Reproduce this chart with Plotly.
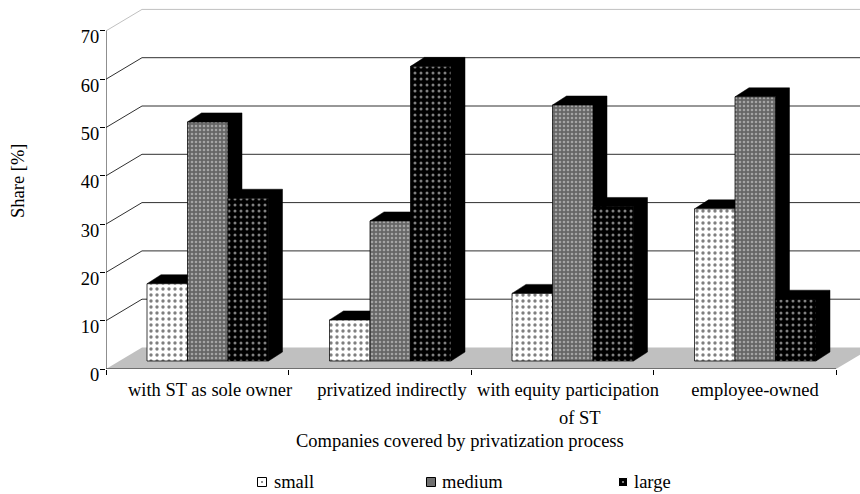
"""Share of small, medium and large companies by privatization path (pseudo-3D bars)."""

import plotly.graph_objects as go

CATEGORIES = [
    "with ST as sole owner",
    "privatized indirectly",
    "with equity participation",
    "employee-owned",
]
SMALL = [16, 8.5, 14, 31.5]
MEDIUM = [49.5, 29, 53, 54.7]
LARGE = [33.7, 61, 32, 12.8]
Y_TICKS = [0, 10, 20, 30, 40, 50, 60, 70]
LEGEND_NAMES = ["small", "medium", "large"]

FONT = "Liberation Serif"
WIDTH, HEIGHT = 860, 494

# pixel frame of the axes
X0_PX, Y0_PX = 106, 369
TOP_PX = 4
CAT_PX = 182.5
TEN_PX = 48.3
X_MAX = (WIDTH - X0_PX) / CAT_PX
Y_MAX = (Y0_PX - TOP_PX) / (TEN_PX / 10)

# category labels are not centred on their slots in the original
LABEL_PX = [210, 392, 568, 755]
LEGEND_KEY_PX = [262, 431, 623]
LEGEND_TEXT_PX = [272, 440, 632]
LEGEND_Y_PX = 482

# oblique offsets, in data units
WALL_DX, WALL_DY = 36 / CAT_PX, 21.5 / (TEN_PX / 10)
BASE_DX, BASE_DY = 10.5 / CAT_PX, 8 / (TEN_PX / 10)
BAR_DX, BAR_DY = 14 / CAT_PX, 9 / (TEN_PX / 10)
BAR_W = 40.5 / CAT_PX

SERIES = [
    ("small", SMALL, {"shape": ".", "fgcolor": "black", "bgcolor": "white", "size": 6, "solidity": 0.25}),
    ("medium", MEDIUM, {"shape": ".", "fgcolor": "#e4e4e4", "bgcolor": "#666666", "size": 4, "solidity": 0.33}),
    ("large", LARGE, {"shape": ".", "fgcolor": "white", "bgcolor": "black", "size": 6, "solidity": 0.2}),
]


def px_x(px):
    return (px - X0_PX) / CAT_PX


def label(text, x_px, y_px, **kw):
    # margins are zero, so paper coordinates are the whole canvas
    return {
        "text": text,
        "x": x_px / WIDTH,
        "y": 1 - y_px / HEIGHT,
        "xref": "paper",
        "yref": "paper",
        "xanchor": "center",
        "yanchor": "middle",
        "showarrow": False,
        **kw,
    }


fig = go.Figure()

# floor
fig.add_trace(go.Scatter(
    x=[0, WALL_DX, len(CATEGORIES) + WALL_DX, len(CATEGORIES), 0],
    y=[0, WALL_DY, WALL_DY, 0, 0],
    mode="lines", fill="toself", fillcolor="#c0c0c0", line={"width": 0},
    hoverinfo="skip", showlegend=False,
))

# grid: slanted part on the side wall, then straight along the back wall
for val in Y_TICKS[1:]:
    top = val == Y_TICKS[-1]
    fig.add_trace(go.Scatter(
        x=[0, WALL_DX, len(CATEGORIES) + WALL_DX],
        y=[val, val + WALL_DY, val + WALL_DY],
        mode="lines",
        line={"width": 1, "color": "#c0c0c0" if top else "#303030"},
        hoverinfo="skip", showlegend=False, cliponaxis=False,
    ))

# bars, drawn series by series so each front covers the neighbour's side face
for j, (name, values, pattern) in enumerate(SERIES):
    for i, val in enumerate(values):
        xl = i + 0.5 + BASE_DX + (j - 1.5) * BAR_W
        xr = xl + BAR_W
        yb = BASE_DY
        yt = BASE_DY + val
        fig.add_trace(go.Scatter(
            x=[xl, xl + BAR_DX, xr + BAR_DX, xr + BAR_DX, xr, xr, xl],
            y=[yt, yt + BAR_DY, yt + BAR_DY, yb + BAR_DY, yb, yt, yt],
            mode="lines", fill="toself", fillcolor="black",
            line={"width": 0.5, "color": "black"},
            hoverinfo="skip", showlegend=False,
        ))
        fig.add_trace(go.Scatter(
            x=[xl, xr, xr, xl, xl],
            y=[yb, yb, yt, yt, yb],
            mode="lines", fill="toself", fillpattern=pattern,
            fillcolor=pattern["bgcolor"],
            line={"width": 0.75, "color": "black"},
            name=name, hovertemplate=f"{name}: {val}%<extra></extra>", showlegend=False,
        ))

# axis lines sit on the plot edge, so they are left unclipped
fig.add_trace(go.Scatter(
    x=[0, 0, None, 0, len(CATEGORIES)],
    y=[0, Y_TICKS[-1], None, 0, 0],
    mode="lines", line={"width": 1, "color": "#202020"},
    hoverinfo="skip", showlegend=False, cliponaxis=False,
))

# legend keys live on their own hidden pixel axes in a strip below the chart
fig.add_trace(go.Scatter(
    x=LEGEND_KEY_PX,
    y=[LEGEND_Y_PX] * 3,
    xaxis="x2",
    yaxis="y2",
    mode="markers",
    marker={
        "symbol": ["square-dot", "square", "square-dot"],
        "size": 9,
        "color": ["white", "#707070", "black"],
        "line": {"width": 1, "color": ["black", "black", "white"]},
    },
    hoverinfo="skip", showlegend=False,
))

annotations = [
    label("of ST", 580, 418),
    label("Companies covered by privatization process", 460, 441),
    label("Share [%]", 18, 181, textangle=-90),
]
for name, x_px in zip(LEGEND_NAMES, LEGEND_TEXT_PX):
    annotations.append(label(name, x_px, LEGEND_Y_PX, xanchor="left"))

fig.update_layout(
    width=WIDTH,
    height=HEIGHT,
    margin={"l": 0, "r": 0, "t": 0, "b": 0, "autoexpand": False},
    paper_bgcolor="white",
    plot_bgcolor="white",
    showlegend=False,
    font={"family": FONT, "size": 18.5, "color": "black"},
    annotations=annotations,
    xaxis={
        "domain": [X0_PX / WIDTH, 1],
        "range": [0, X_MAX],
        "showgrid": False,
        "zeroline": False,
        "tickmode": "array",
        "tickvals": [px_x(p) for p in LABEL_PX],
        "ticktext": CATEGORIES,
        "ticks": "",
        "tickangle": 0,
        "ticklabelstandoff": 7,
        "minor": {
            "tickmode": "array",
            "tickvals": list(range(len(CATEGORIES) + 1)),
            "ticks": "outside",
            "ticklen": 5,
            "tickcolor": "black",
            "showgrid": False,
        },
    },
    yaxis={
        "domain": [1 - Y0_PX / HEIGHT, 1 - TOP_PX / HEIGHT],
        "range": [0, Y_MAX],
        "showgrid": False,
        "zeroline": False,
        "tickmode": "array",
        "tickvals": Y_TICKS,
        "ticks": "outside",
        "ticklen": 5,
        "tickcolor": "black",
        "ticklabelstandoff": -3,
        "ticklabelshift": 6,
    },
    xaxis2={"domain": [0, 1], "range": [0, WIDTH], "visible": False, "anchor": "y2"},
    yaxis2={"domain": [0, 30 / HEIGHT], "range": [HEIGHT, HEIGHT - 30], "visible": False, "anchor": "x2"},
)

fig.write_html(
    "out.html",
    config={"displayModeBar": False},
    post_script="document.body.style.margin = '0';",
)
